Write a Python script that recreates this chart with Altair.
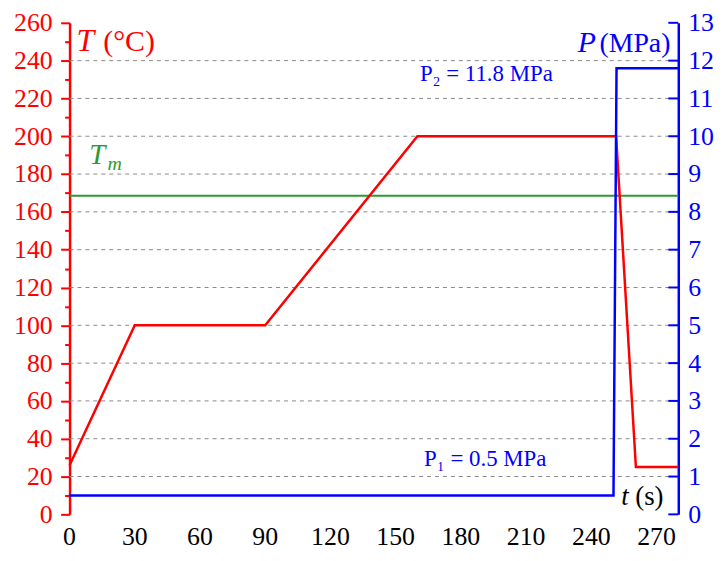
import altair as alt
import pandas as pd

# ---- data ----
t_T = [0, 30, 90, 160, 251.4, 260.5, 280]
T_vals = [26, 100, 100, 200, 200, 25, 25]

t_P = [0, 250.2, 251.6, 280]
P_vals = [0.5, 0.5, 11.8, 11.8]

Tm_val = [168.5]
grid_T = [20, 40, 60, 80, 100, 120, 140, 160, 180, 200, 220, 240]
P_ticks = list(range(0, 14))
x_ticks = list(range(0, 271, 15))
x_labels = list(range(0, 271, 30))
T_ticks = list(range(0, 261, 10))
T_labels = list(range(0, 261, 20))

W, H = 613, 495
RED = "#ff0000"
BLUE = "#0000ff"
GREEN = "#2e9a2e"
SERIF = "Liberation Serif"
LBL = 26

x_scale = alt.Scale(domain=[0, 280], nice=False, zero=False)
T_scale = alt.Scale(domain=[0, 260], nice=False, zero=False)
P_scale = alt.Scale(domain=[0, 13], nice=False, zero=False)

x_axis = alt.Axis(
    values=x_ticks, labels=False,
    tickSize={"condition": {"test": "datum.value % 30 === 0", "value": 9}, "value": 5},
    tickColor="black", tickWidth=2, domainColor="black", domainWidth=2,
    grid=False, title=None,
)
T_axis = alt.Axis(
    orient="left", values=T_ticks, labels=False,
    tickSize={"condition": {"test": "datum.value % 20 === 0", "value": 9}, "value": 5},
    tickColor=RED, tickWidth=2, domainColor=RED, domainWidth=2.5,
    grid=False, title=None,
)
P_axis = alt.Axis(
    orient="right", values=P_ticks, ticks=False, labels=False,
    domainColor=BLUE, domainWidth=2.5, grid=False, title=None,
)

df_T = pd.DataFrame({"t": t_T, "T": T_vals})
df_P = pd.DataFrame({"t": t_P, "P": P_vals})

grid = alt.Chart(pd.DataFrame({"T": grid_T})).mark_rule(
    color="#888888", strokeDash=[4, 4], strokeWidth=1
).encode(
    y=alt.Y("T:Q", scale=T_scale, axis=None), x=alt.value(0), x2=alt.value(W)
)

tm = alt.Chart(pd.DataFrame({"T": Tm_val})).mark_rule(
    color=GREEN, strokeWidth=2
).encode(
    y=alt.Y("T:Q", scale=T_scale, axis=None), x=alt.value(0), x2=alt.value(W)
)

line_T = alt.Chart(df_T).mark_line(color=RED, strokeWidth=2.5, strokeJoin="miter").encode(
    x=alt.X("t:Q", scale=x_scale, axis=x_axis),
    y=alt.Y("T:Q", scale=T_scale, axis=T_axis),
)

line_P = alt.Chart(df_P).mark_line(color=BLUE, strokeWidth=2.5, strokeJoin="miter").encode(
    x=alt.X("t:Q", scale=x_scale, axis=None),
    y=alt.Y("P:Q", scale=P_scale, axis=P_axis),
)

p_tick_marks = alt.Chart(pd.DataFrame({"P": P_ticks})).mark_rule(
    color=BLUE, strokeWidth=2
).encode(
    y=alt.Y("P:Q", scale=P_scale, axis=None), x=alt.value(W - 10), x2=alt.value(W)
)

# tick labels (drawn as text through the scales)
lab_T = alt.Chart(pd.DataFrame({"T": T_labels})).mark_text(
    color=RED, font=SERIF, fontSize=LBL, align="right", baseline="alphabetic", dy=8.5
).encode(
    y=alt.Y("T:Q", scale=T_scale, axis=None), x=alt.value(-17), text=alt.Text("T:Q")
)
lab_P = alt.Chart(pd.DataFrame({"P": P_ticks})).mark_text(
    color=BLUE, font=SERIF, fontSize=LBL, align="left", baseline="alphabetic", dy=8.5
).encode(
    y=alt.Y("P:Q", scale=P_scale, axis=None), x=alt.value(W + 10), text=alt.Text("P:Q")
)
lab_x = alt.Chart(pd.DataFrame({"t": x_labels})).mark_text(
    color="black", font=SERIF, fontSize=LBL, align="center", baseline="alphabetic"
).encode(
    x=alt.X("t:Q", scale=x_scale, axis=None), y=alt.value(H + 31), text=alt.Text("t:Q")
)

# annotations: (text, t, T, color, size, italic, align)
annotations = [
    ("T", 3.2, 245.3, RED, 32, True, "left"),
    ("(°C)", 15.5, 245.3, RED, 30, False, "left"),
    ("P", 242.1, 244.8, BLUE, 30, True, "right"),
    ("(MPa)", 276.4, 244.8, BLUE, 28, False, "right"),
    ("T", 9.1, 185.1, GREEN, 29, True, "left"),
    ("m", 17.4, 182.3, GREEN, 20, True, "left"),
    ("P\u2082 = 11.8 MPa", 191.7, 229.4, BLUE, 23, False, "center"),
    ("P\u2081 = 0.5 MPa", 191.2, 25.7, BLUE, 23, False, "center"),
    ("t", 257.2, 4.7, "black", 27, True, "right"),
    ("(s)", 273.2, 4.7, "black", 27, False, "right"),
]

texts = []
for txt, tx, ty, col, size, ital, al in annotations:
    texts.append(
        alt.Chart(pd.DataFrame({"t": [tx], "T": [ty], "label": [txt]}))
        .mark_text(
            color=col, fontSize=size, font=SERIF,
            fontStyle="italic" if ital else "normal",
            align=al, baseline="alphabetic",
        )
        .encode(
            x=alt.X("t:Q", scale=x_scale, axis=None),
            y=alt.Y("T:Q", scale=T_scale, axis=None),
            text="label:N",
        )
    )

chart = (
    alt.layer(grid, tm, line_T, line_P, p_tick_marks, lab_T, lab_P, lab_x, *texts)
    .resolve_scale(y="independent")
    .properties(
        width=W, height=H,
        autosize=alt.AutoSizeParams(type="none"),
        padding={"left": 62, "top": 13, "right": 40, "bottom": 37},
    )
    .configure_view(stroke=None)
)

chart.save("out.html", embed_options={"renderer": "svg", "actions": False})
